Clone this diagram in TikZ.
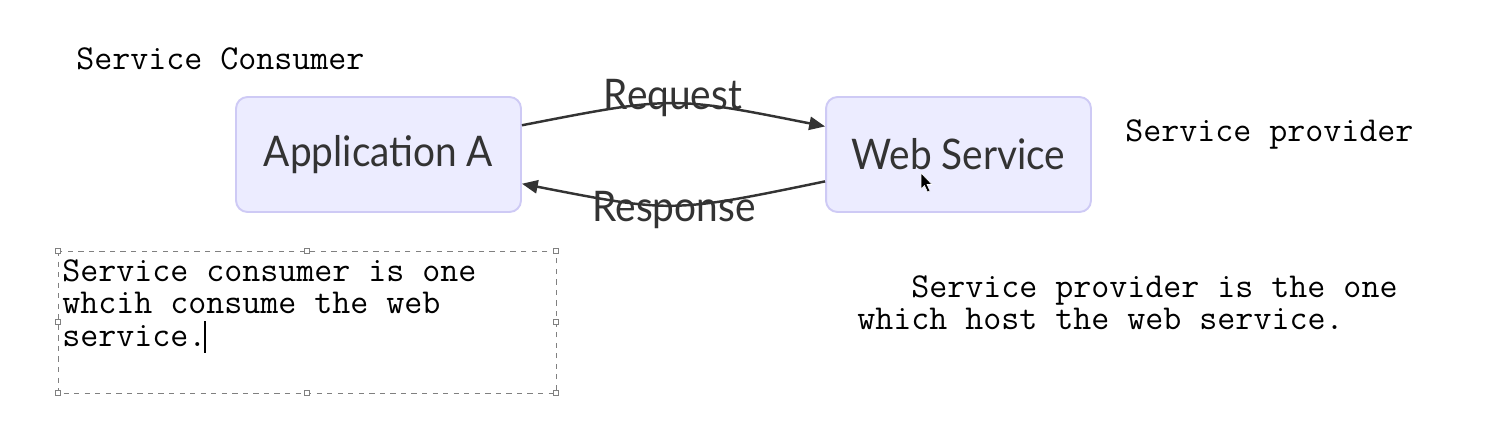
\documentclass[tikz,border=0pt]{standalone}
\usepackage{fontspec}
\usetikzlibrary{arrows.meta,calc}
\newfontfamily\boxfont[FakeStretch=0.92]{Lato}
\definecolor{boxfill}{RGB}{236,236,255}
\definecolor{boxline}{RGB}{206,202,245}
\definecolor{inkgray}{RGB}{51,51,51}
\begin{document}
\begin{tikzpicture}[x=0.02cm,y=-0.02cm,>={Triangle[length=9pt,width=7.5pt]},
  svcbox/.style={draw=boxline,fill=boxfill,line width=1.1pt,rounded corners=6.5pt,
    minimum height=2.3cm,font=\boxfont\fontsize{24}{29}\selectfont,text=inkgray},
  msg/.style={font=\boxfont\fontsize{24}{29}\selectfont,text=inkgray,inner sep=0pt},
  msgline/.style={->,draw=inkgray,line width=1.4pt},
  note/.style={font=\ttfamily\fontsize{19.9}{18.7}\selectfont,inner sep=0pt,align=left},
  handle/.style={draw=gray,fill=white,line width=0.4pt,minimum size=3pt,inner sep=0pt}]
	\useasboundingbox (0,0) rectangle (1506,429);
	\node[svcbox,minimum width=5.7cm] (appA) at (378.5,154.5) {Application A};
	\node[svcbox,minimum width=5.3cm] (web) at (958.5,154.5) {Web Service};
	% request / response
	\draw[msgline] ($(appA.north east)!0.25!(appA.south east)$) .. controls (672,96) .. ($(web.north west)!0.26!(web.south west)$);
	\draw[msgline] ($(web.north west)!0.73!(web.south west)$) .. controls (672,213) .. ($(appA.north east)!0.75!(appA.south east)$);
	\node[msg] (req) at (673,98) {Request};
	\node[msg] (resp) at (674,210) {Response};
	% mouse pointer
	\filldraw[fill=black,draw=white,line width=0.3pt] (921,173) -- (921,189) -- (924.5,185.5) -- (927.5,192) -- (930,191) -- (927,184.5) -- (932,184.5) -- cycle;
	% labels
	\node[note,anchor=west] (consumer) at (76,59) {Service Consumer};
	\node[note,anchor=west] (provider) at (1125,134) {Service provider};
	\node[note,anchor=north west] (provnote) at (857,275) {\phantom{xxx}Service provider is the one\\which host the web service.};
	% text box with handles
	\draw[dashed,gray,line width=0.5pt] (58,251) rectangle (556,393);
	\foreach \hx/\hy in {58/251,307/251,556/251,58/322,556/322,58/393,307/393,556/393}
		\node[handle] at (\hx,\hy) {};
	\node[note,anchor=north west] (consnote) at (62,259) {Service consumer is one\\whcih consume the web\\service.};
	\draw[line width=0.7pt] (205,321) -- (205,353);
\end{tikzpicture}
\end{document}
